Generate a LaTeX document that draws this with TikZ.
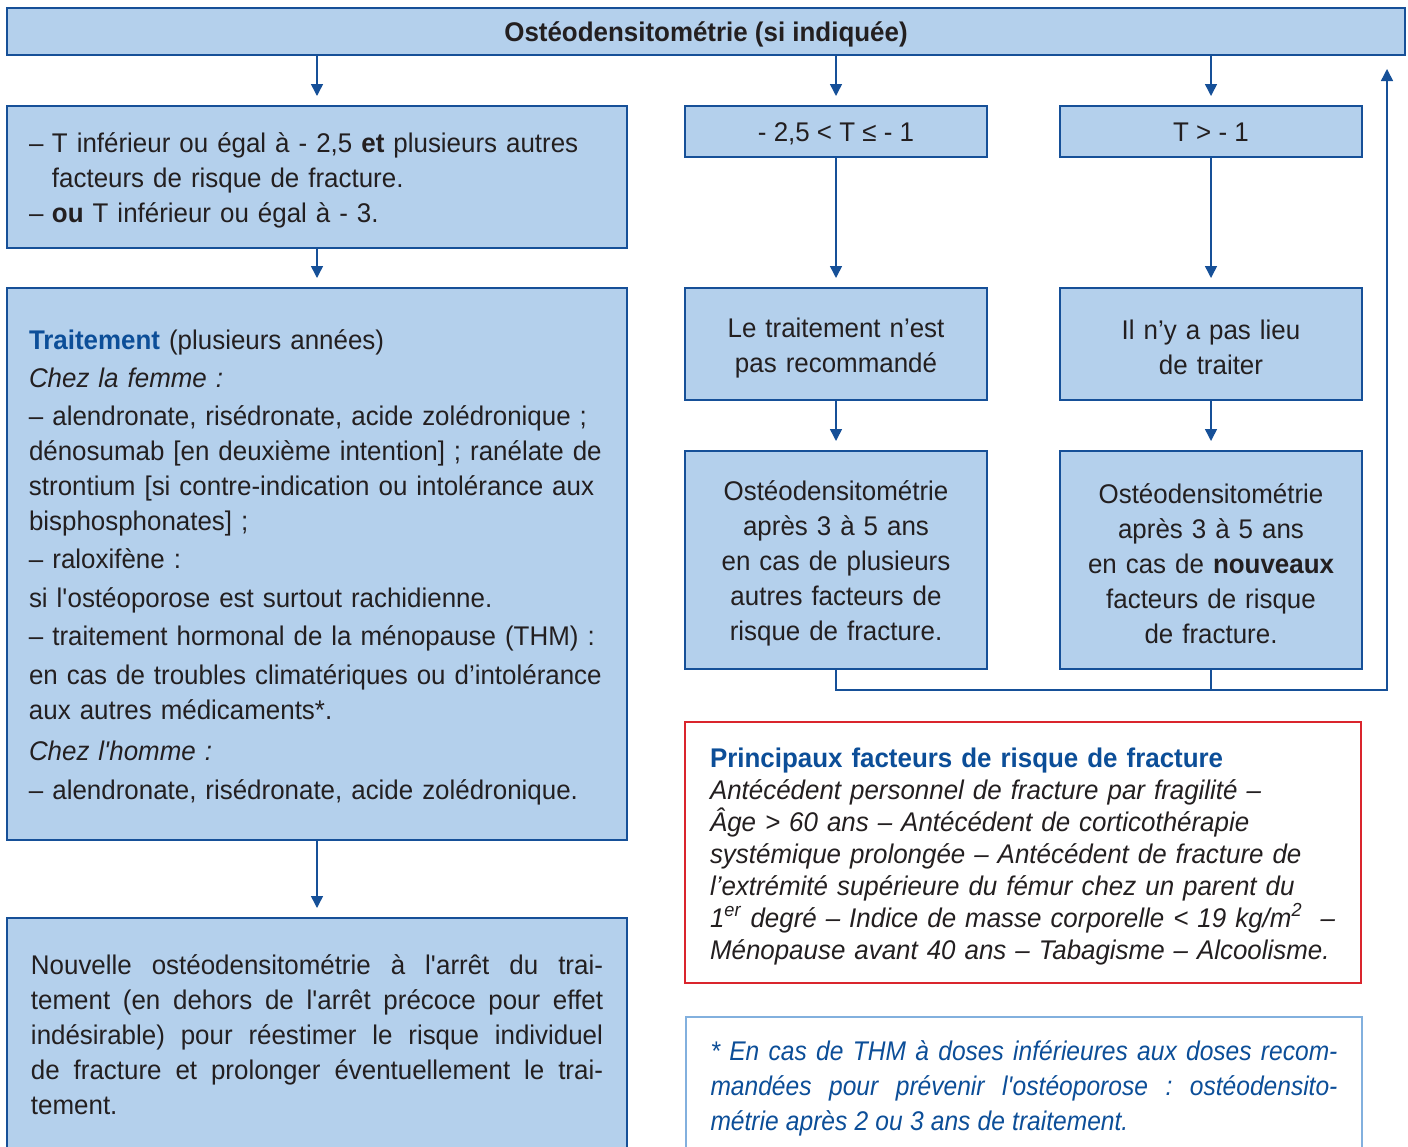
\documentclass[tikz,border=0pt]{standalone}
\usepackage{fontspec}
\setmainfont{Liberation Sans}[FakeStretch=0.96]
\newfontfamily\notefont{Liberation Sans}[FakeStretch=0.91]
\usetikzlibrary{positioning}
\usetikzlibrary{arrows.meta}

\definecolor{boxfill}{RGB}{180,208,236}
\definecolor{boxline}{RGB}{22,80,152}
\definecolor{titleblue}{RGB}{12,78,152}
\definecolor{riskred}{RGB}{218,37,45}
\definecolor{noteline}{RGB}{130,176,222}
\definecolor{inktext}{RGB}{35,31,32}

\newcommand{\apos}{\textquotesingle}
\newcommand{\justspaces}{\spaceskip=0.267em plus 1em minus 0.06em\relax\xspaceskip=\spaceskip}

\tikzset{
  bluebox/.style={draw=boxline, fill=boxfill, line width=1pt, inner sep=0pt,
    text=inktext, font=\fontsize{13.5}{17.5}\selectfont},
  oneline/.style={text height=10pt, text depth=0pt},
  padtop/.style={execute at begin node={\rule{0pt}{13.5pt}}},
  arr/.style={draw=boxline, line width=0.75pt, -{Triangle[length=6pt,width=6pt]}, shorten >=4.5pt},
  backline/.style={draw=boxline, line width=0.75pt}
}

\begin{document}
\begin{tikzpicture}[x=0.5pt,y=-0.5pt]
\clip (0,0) rectangle (1408,1146);

% header
\node[bluebox, oneline, minimum width=699pt, minimum height=23.5pt,
  font=\fontsize{13.5}{17.5}\selectfont\bfseries] (top) at (706,31.5) {Ostéodensitométrie (si indiquée)};

% left column
\node[bluebox, padtop, minimum width=310pt, minimum height=71pt, text width=288pt, align=left] (crit) at (317,177)
  {\makebox[11.5pt][l]{–}T inférieur ou égal à - 2,5 \textbf{et} plusieurs autres\\
   \hspace*{11.5pt}facteurs de risque de fracture.\\
   \makebox[11.5pt][l]{–}\textbf{ou} T inférieur ou égal à - 3.};

\node[bluebox, padtop, minimum width=310pt, minimum height=276pt, text width=288pt, align=left] (treat) at (317,564)
  {{\bfseries\color{titleblue}Traitement} (plusieurs années)\\[1.5pt]
   \textit{Chez la femme :}\\[1.5pt]
   – alendronate, risédronate, acide zolédronique ;\\
   dénosumab [en deuxième intention] ; ranélate de\\
   strontium [si contre-indication ou intolérance aux\\
   bisphosphonates] ;\\[1.5pt]
   – raloxifène :\\[2pt]
   si l\apos ostéoporose est surtout rachidienne.\\[1.5pt]
   – traitement hormonal de la ménopause (THM) :\\[2pt]
   en cas de troubles climatériques ou d’intolérance\\
   aux autres médicaments*.\\[3pt]
   \textit{Chez l\apos homme :}\\[2pt]
   – alendronate, risédronate, acide zolédronique.};

\node[bluebox, minimum width=310pt, minimum height=117pt, text width=286pt] (renew) at (317,1035)
  {\justspaces\noindent\makebox[286pt][s]{Nouvelle ostéodensitométrie à l\apos arrêt du trai-}\\
   \makebox[286pt][s]{tement (en dehors de l\apos arrêt précoce pour effet}\\
   \makebox[286pt][s]{indésirable) pour réestimer le risque individuel}\\
   \makebox[286pt][s]{de fracture et prolonger éventuellement le trai-}\\
   tement.};

% middle column
\node[bluebox, oneline, minimum width=151pt, minimum height=25.5pt] (midT) at (836,131.5) {- 2,5 < T ≤ - 1};
\node[bluebox, padtop, minimum width=151pt, minimum height=56pt, text width=145pt, align=center] (midNo) at (836,344)
  {Le traitement n’est\\pas recommandé};
\node[bluebox, padtop, minimum width=151pt, minimum height=109pt, text width=145pt, align=center] (midRe) at (836,560)
  {Ostéodensitométrie\\après 3 à 5 ans\\en cas de plusieurs\\autres facteurs de\\risque de fracture.};

% right column
\node[bluebox, oneline, minimum width=151pt, minimum height=25.5pt] (highT) at (1211,131.5) {T > - 1};
\node[bluebox, padtop, minimum width=151pt, minimum height=56pt, text width=145pt, align=center] (highNo) at (1211,344)
  {Il n’y a pas lieu\\de traiter};
\node[bluebox, padtop, minimum width=151pt, minimum height=109pt, text width=145pt, align=center] (highRe) at (1211,560)
  {Ostéodensitométrie\\après 3 à 5 ans\\en cas de \textbf{nouveaux}\\facteurs de risque\\de fracture.};

% risk factors
\node[padtop, draw=riskred, line width=1.2pt, fill=white, inner sep=0pt, minimum width=338pt, minimum height=130.5pt,
  text width=313pt, align=left, text=inktext, font=\fontsize{13.5}{16}\selectfont] (risk) at (1023,852.5)
  {{\bfseries\color{titleblue}Principaux facteurs de risque de fracture}\\
   \itshape Antécédent personnel de fracture par fragilité –\\
   Âge > 60 ans – Antécédent de corticothérapie\\
   systémique prolongée – Antécédent de fracture de\\
   l’extrémité supérieure du fémur chez un parent du\\
   1\textsuperscript{er} degré – Indice de masse corporelle < 19 kg/m\textsuperscript{2}\ \ –\\
   Ménopause avant 40 ans – Tabagisme – Alcoolisme.};

% footnote
\node[padtop, draw=noteline, line width=0.6pt, fill=white, inner sep=0pt, minimum width=338pt, minimum height=67.5pt,
  text width=313.5pt, text=titleblue, font=\fontsize{13.5}{17.5}\notefont\itshape] (note) at (1024,1084.5)
  {\justspaces\makebox[313.5pt][s]{* En cas de THM à doses inférieures aux doses recom-}\\
   \makebox[313.5pt][s]{mandées pour prévenir l\apos ostéoporose : ostéodensito-}\\
   métrie après 2 ou 3 ans de traitement.};

% arrows
\draw[arr] (crit.north |- top.south) -- (crit.north);
\draw[arr] (midT.north |- top.south) -- (midT.north);
\draw[arr] (highT.north |- top.south) -- (highT.north);
\draw[arr] (crit.south) -- (treat.north);
\draw[arr] (treat.south) -- (renew.north);
\draw[arr] (midT.south) -- (midNo.north);
\draw[arr] (midNo.south) -- (midRe.north);
\draw[arr] (highT.south) -- (highNo.north);
\draw[arr] (highNo.south) -- (highRe.north);

% back to the header
\coordinate (loopcorner) at (1387,690);
\coordinate (loopend) at (1387,69);
\draw[backline, -{Triangle[length=6pt,width=6pt]}] (midRe.south) |- (loopcorner) -- (loopend);
\draw[backline] (highRe.south) -- (highRe.south |- loopcorner);
\end{tikzpicture}
\end{document}
